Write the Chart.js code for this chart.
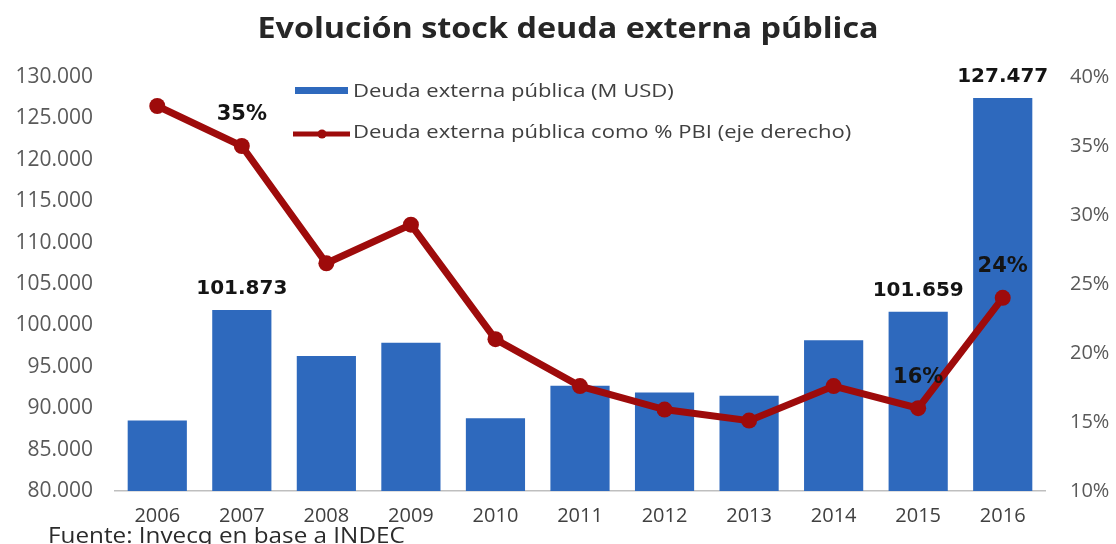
<!DOCTYPE html>
<html lang="es">
<head>
<meta charset="utf-8">
<title>Evolución stock deuda externa pública</title>
<script src="https://cdn.jsdelivr.net/npm/chart.js@4.4.1/dist/chart.umd.min.js"></script>
<style>
  html, body { margin: 0; padding: 0; background: #ffffff; }
  #wrap { width: 1116px; height: 544px; position: relative; }
</style>
</head>
<body>
<div id="wrap"><canvas id="chart" width="1116" height="544"></canvas></div>
<script>
// Años
const years = ['2006', '2007', '2008', '2009', '2010', '2011', '2012', '2013', '2014', '2015', '2016'];
// Stock de deuda externa pública, millones de USD
const debtMUSD = [88500, 101873, 96300, 97900, 88800, 92700, 91900, 91500, 98200, 101659, 127477];
// Deuda externa pública como % del PBI
const debtPctGDP = [37.9, 35, 26.5, 29.3, 21.0, 17.6, 15.9, 15.1, 17.6, 16, 24];
// Años con el valor rotulado
const labelledYears = ['2007', '2015', '2016'];

const titleText = 'Evolución stock deuda externa pública';
const sourceText = 'Fuente: Invecq en base a INDEC';
const barLabel = 'Deuda externa pública (M USD)';
const lineLabel = 'Deuda externa pública como % PBI (eje derecho)';

const BLUE = '#2e69bd';
const RED = '#9e0b0b';
const TICK = '#595959';
const UI_FONT = '"Open Sans", "Noto Sans", sans-serif';

function thousands(v) {
  return String(Math.round(v)).replace(/\B(?=(\d{3})+(?!\d))/g, '.');
}

// Texto con un leve ensanche horizontal
function wideText(ctx, text, x, y, sx) {
  ctx.save();
  ctx.translate(x, y);
  ctx.scale(sx, 1);
  ctx.fillText(text, 0, 0);
  ctx.restore();
}

// Título, leyenda interna, rótulos de valores y fuente
const decorations = {
  id: 'decorations',
  afterDatasetsDraw(chart) {
    const ctx = chart.ctx;
    const area = chart.chartArea;
    ctx.save();

    // Título
    ctx.fillStyle = '#262626';
    ctx.font = 'bold 28px ' + UI_FONT;
    ctx.textAlign = 'center';
    ctx.textBaseline = 'middle';
    wideText(ctx, titleText, 568, 30, 1.155);

    // Leyenda
    const lx = area.left + 180;
    ctx.fillStyle = BLUE;
    ctx.fillRect(lx, 87, 53, 7);
    ctx.strokeStyle = RED;
    ctx.lineWidth = 5;
    ctx.beginPath();
    ctx.moveTo(lx - 2, 134);
    ctx.lineTo(lx + 55, 134);
    ctx.stroke();
    ctx.fillStyle = RED;
    ctx.beginPath();
    ctx.arc(lx + 27, 134, 4.5, 0, Math.PI * 2);
    ctx.fill();
    ctx.fillStyle = '#404040';
    ctx.font = '19px ' + UI_FONT;
    ctx.textAlign = 'left';
    wideText(ctx, chart.data.datasets[0].label, lx + 58, 92, 1.16);
    wideText(ctx, chart.data.datasets[1].label, lx + 58, 133, 1.16);

    // Rótulos de valores
    const barMeta = chart.getDatasetMeta(0);
    const lineMeta = chart.getDatasetMeta(1);
    ctx.fillStyle = '#141414';
    ctx.textAlign = 'center';
    labelledYears.forEach(function (yr) {
      const i = years.indexOf(yr);
      const bar = barMeta.data[i];
      ctx.font = 'bold 20px "DejaVu Sans", sans-serif';
      ctx.fillText(thousands(debtMUSD[i]), bar.x, bar.y - 21);
      const pt = lineMeta.data[i];
      ctx.font = 'bold 21px "DejaVu Sans", sans-serif';
      ctx.fillText(Math.round(debtPctGDP[i]) + '%', pt.x, pt.y - 31);
    });

    // Fuente
    ctx.fillStyle = '#2b2b2b';
    ctx.font = '21px ' + UI_FONT;
    ctx.textAlign = 'left';
    wideText(ctx, sourceText, 48, 537, 1.155);

    ctx.restore();
  }
};

new Chart(document.getElementById('chart'), {
  data: {
    labels: years,
    datasets: [
      {
        type: 'bar',
        label: barLabel,
        data: debtMUSD,
        yAxisID: 'y',
        backgroundColor: BLUE,
        borderWidth: 0,
        categoryPercentage: 1.0,
        barPercentage: 0.7,
        order: 2
      },
      {
        type: 'line',
        label: lineLabel,
        data: debtPctGDP,
        yAxisID: 'y1',
        borderColor: RED,
        backgroundColor: RED,
        borderWidth: 7,
        pointRadius: 8,
        pointHoverRadius: 8,
        pointBackgroundColor: RED,
        pointBorderWidth: 0,
        tension: 0,
        order: 1
      }
    ]
  },
  options: {
    responsive: false,
    animation: false,
    events: [],
    layout: { padding: { top: 77, left: 0, right: 0, bottom: 0 } },
    plugins: {
      legend: { display: false },
      title: { display: false },
      tooltip: { enabled: false }
    },
    scales: {
      x: {
        grid: { display: false, drawTicks: false },
        border: { display: true, color: '#bfbfbf', width: 1.5 },
        ticks: {
          color: '#404040',
          font: { family: UI_FONT, size: 20 },
          padding: 13
        },
        afterFit(scale) { scale.height = 53; }
      },
      y: {
        position: 'left',
        min: 80000,
        max: 130000,
        grid: { display: false, drawTicks: false },
        border: { display: false },
        ticks: {
          stepSize: 5000,
          color: TICK,
          font: { family: UI_FONT, size: 21 },
          padding: 22,
          callback: function (v) { return thousands(v); }
        },
        afterFit(scale) { scale.width = 115; }
      },
      y1: {
        position: 'right',
        min: 10,
        max: 40,
        grid: { display: false, drawTicks: false },
        border: { display: false },
        ticks: {
          stepSize: 5,
          color: TICK,
          font: { family: UI_FONT, size: 20 },
          padding: 25,
          callback: function (v) { return v + '%'; }
        },
        afterFit(scale) { scale.width = 71; }
      }
    }
  },
  plugins: [decorations]
});
</script>
</body>
</html>
